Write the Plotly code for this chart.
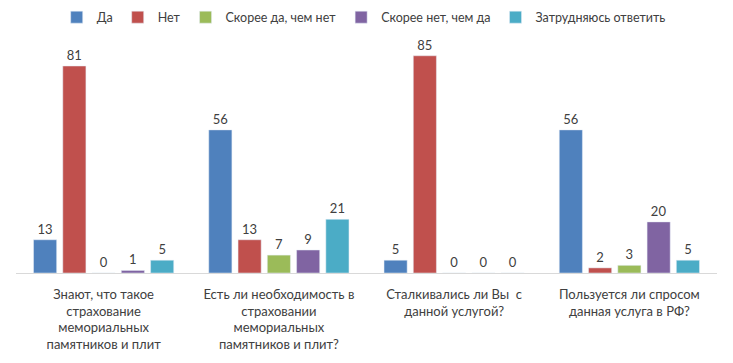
import plotly.graph_objects as go

categories = [
    "Знают, что такое<br>страхование<br>мемориальных<br>памятников и плит",
    "Есть ли необходимость в<br>страховании<br>мемориальных<br>памятников и плит?",
    "Сталкивались ли Вы  с<br>данной услугой?",
    "Пользуется ли спросом<br>данная услуга в РФ?",
]
series_names = ["Да", "Нет", "Скорее да, чем нет", "Скорее нет, чем да", "Затрудняюсь ответить"]
da = [13, 56, 5, 56]
net = [81, 13, 85, 2]
skoree_da = [0, 7, 0, 3]
skoree_net = [1, 9, 0, 20]
zatrud = [5, 21, 0, 5]
colors = ["#4F81BD", "#C0504D", "#9BBB59", "#8064A2", "#4BACC6"]

font_family = "Lato, 'Open Sans', Arial, sans-serif"
fig = go.Figure()
for name, vals, col in zip(series_names, [da, net, skoree_da, skoree_net, zatrud], colors):
    fig.add_trace(go.Bar(
        name=name, x=categories, y=vals, marker_color=col,
        text=[str(v) for v in vals], textposition="outside",
        textfont=dict(size=13, color="#404040", family=font_family),
        cliponaxis=False,
    ))

# page body has an 8px default margin, so the figure is sized to fit the window
fig.update_layout(
    width=725, height=355,
    margin=dict(l=8, r=16, t=35, b=90, autoexpand=False),
    paper_bgcolor="white", plot_bgcolor="white",
    barmode="group", bargap=0.165, bargroupgap=0.21,
    font=dict(family=font_family, size=13, color="#404040"),
    legend=dict(orientation="h", x=0.496, xanchor="center", y=1.176, yanchor="top",
                yref="paper", font=dict(size=12.5, color="#404040"),
                itemwidth=30, traceorder="normal"),
    showlegend=True,
)
fig.update_xaxes(showline=True, linecolor="#D9D9D9", linewidth=1, ticks="",
                 tickfont=dict(size=13, color="#404040"), ticklabelstandoff=9, showgrid=False)
fig.update_yaxes(range=[0, 90], visible=False, showgrid=False, zeroline=False)
fig.write_html("out.html")
